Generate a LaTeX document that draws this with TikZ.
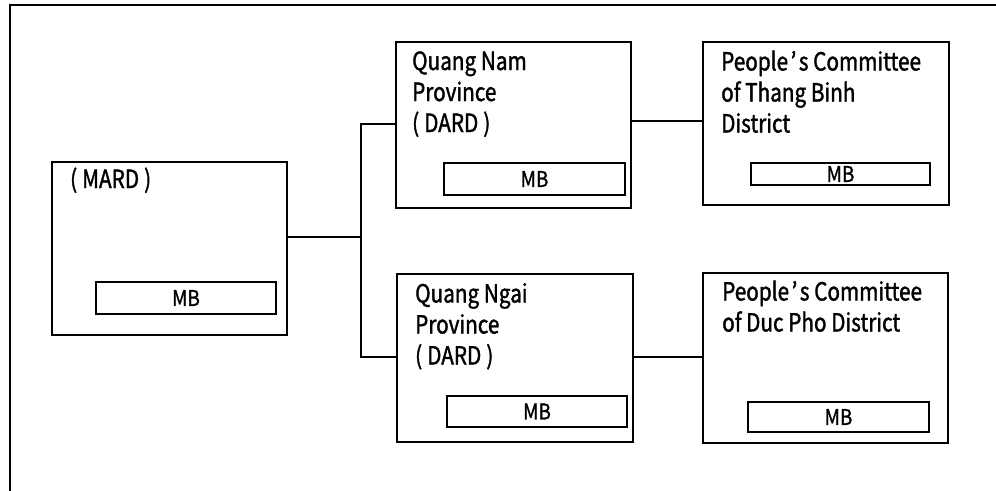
\documentclass[tikz,border=0pt]{standalone}
\usepackage{fontspec}
\newfontfamily\jpfont[FakeStretch=0.83,FakeBold=1.4]{Noto Sans CJK JP}
\newfontfamily\mbfont[FakeStretch=0.88,FakeBold=1.2]{Noto Sans CJK JP}
\newcommand{\apos}{\hspace{2.5pt}’\hspace{2.5pt}}
\newcommand{\lp}{(\hspace{5pt}}
\newcommand{\rp}{\hspace{5pt})}
\begin{document}
\begin{tikzpicture}[x=1pt,y=-1pt,
  box/.style={draw=black, line width=1.6pt, rectangle, inner sep=0pt},
  mbbox/.style={draw=black, line width=1.6pt, rectangle, inner sep=0pt,
    font=\mbfont\fontsize{21.5}{21.5}\selectfont},
  label/.style={anchor=base west, align=left, inner sep=0pt,
    font=\jpfont\fontsize{25}{31}\selectfont},
  conn/.style={line width=1.6pt}]
\useasboundingbox (0,0) rectangle (996,490);
\draw[line width=2pt] (10,492) -- (10,5) -- (998,5);
% boxes
\node[box, minimum width=235pt, minimum height=173pt] (mard) at (169.5,248.5) {};
\node[mbbox, minimum width=180pt, minimum height=32pt] (mardmb) at (186,298) {MB};
\node[label] (mardt) at (70,188) {\lp MARD\rp};

\node[box, minimum width=235pt, minimum height=166pt] (qnam) at (513.5,125) {};
\node[mbbox, minimum width=181pt, minimum height=32pt] (qnammb) at (534.5,179) {MB};
\node[label] (qnamt) at (412,132) {Quang Nam\\Province\\\lp DARD\rp};

\node[box, minimum width=246pt, minimum height=163pt] (tb) at (826,123.5) {};
\node[mbbox, minimum width=179pt, minimum height=22pt] (tbmb) at (840.5,174) {MB};
\node[label] (tbt) at (721,132.5) {People\apos s Committee\\of Thang Binh\\District};

\node[box, minimum width=236pt, minimum height=168pt] (qngai) at (515,358) {};
\node[mbbox, minimum width=180pt, minimum height=31pt] (qngaimb) at (537,411.5) {MB};
\node[label] (qngait) at (415,364.5) {Quang Ngai\\Province\\\lp DARD\rp};

\node[box, minimum width=245pt, minimum height=170pt] (dp) at (825.5,358) {};
\node[mbbox, minimum width=181pt, minimum height=30pt] (dpmb) at (838.5,417) {MB};
\node[label] (dpt) at (722,331.5) {People\apos s Committee\\of Duc Pho District};

% connectors
\coordinate (j) at (361,237);
\coordinate (jt) at (361,124);
\coordinate (jb) at (361,357);
\coordinate (rt) at (667,121);
\coordinate (rb) at (667,357);
\draw[conn] (j -| mard.east) -- (j);
\draw[conn] (jt -| qnam.west) -- (jt) -- (jb) -- (jb -| qngai.west);
\draw[conn] (rt -| qnam.east) -- (rt -| tb.west);
\draw[conn] (rb -| qngai.east) -- (rb -| dp.west);
\end{tikzpicture}
\end{document}
